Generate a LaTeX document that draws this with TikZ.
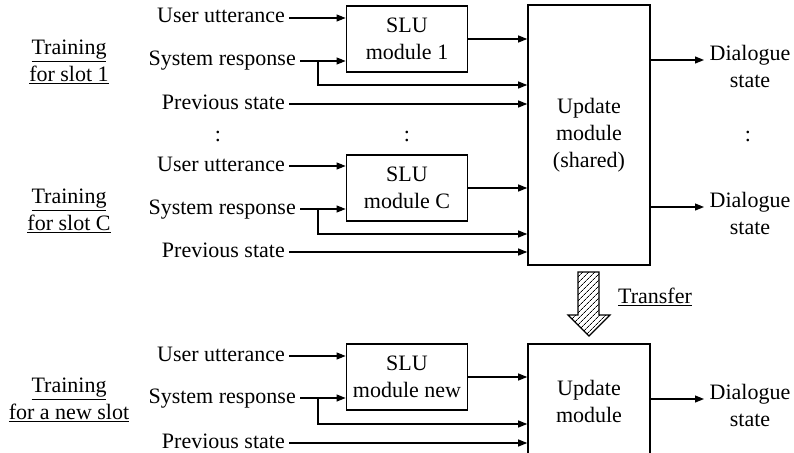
\documentclass[tikz,border=0pt]{standalone}
\usepackage{fontspec}
\setmainfont{Liberation Serif}
\usetikzlibrary{arrows.meta,patterns.meta}

\tikzset{
  every node/.style={font=\fontsize{22}{27}\selectfont},
  inlabel/.style={anchor=east, inner sep=4pt, text height=15pt, text depth=5pt},
  outlabel/.style={align=center, inner sep=4pt},
  trainlabel/.style={align=center, inner sep=0pt},
  slubox/.style={draw, line width=1.8pt, minimum width=121pt, minimum height=66pt,
                 align=center, inner sep=2pt},
  updbox/.style={draw, line width=1.6pt, minimum width=122pt, align=center},
  conn/.style={line width=1.1pt, -{Triangle[length=9pt,width=7pt]}},
  wire/.style={line width=1.1pt},
  dots/.style={inner sep=0pt}
}

\begin{document}
\begin{tikzpicture}[x=1pt,y=-1pt]
\useasboundingbox (0,0) rectangle (794,452);
\clip (0,0) rectangle (794,452);

% ---------- shared update module ----------
\node[updbox, minimum height=260pt] (upd1) at (589,135) {Update\\module\\(shared)};

% ---------- slot 1 ----------
\node[trainlabel] (t1) at (69,62) {\underline{Training}\\\underline{for slot 1}};
\node[inlabel] (u1) at (289,18) {User utterance};
\node[inlabel] (s1) at (300,61) {System response};
\node[inlabel] (p1) at (289,104) {Previous state};
\node[slubox] (slu1) at (407,39) {SLU\\module 1};
\coordinate (b1) at (318,61);
\coordinate (j1) at (318,85);
\draw[conn] (u1.east) -- (u1.east -| slu1.west);
\draw[conn] (s1.east) -- (s1.east -| slu1.west);
\draw[conn] (b1) -- (j1) -- (j1 -| upd1.west);
\draw[conn] (slu1.east) -- (slu1.east -| upd1.west);
\draw[conn] (p1.east) -- (p1.east -| upd1.west);
\node[outlabel] (d1) at (750,66) {Dialogue\\state};
\coordinate (o1) at (704,60);
\draw[conn] (o1 -| upd1.east) -- (o1);

% ---------- ellipsis row ----------
\node[dots] (e1) at (218,136) {:};
\node[dots] (e2) at (407,136) {:};
\node[dots] (e3) at (748,136) {:};

% ---------- slot C ----------
\node[trainlabel] (t2) at (69,211) {\underline{Training}\\\underline{for slot C}};
\node[inlabel] (u2) at (289,166) {User utterance};
\node[inlabel] (s2) at (300,209) {System response};
\node[inlabel] (p2) at (289,252) {Previous state};
\node[slubox] (slu2) at (407,188) {SLU\\module C};
\coordinate (b2) at (318,209);
\coordinate (j2) at (318,234);
\draw[conn] (u2.east) -- (u2.east -| slu2.west);
\draw[conn] (s2.east) -- (s2.east -| slu2.west);
\draw[conn] (b2) -- (j2) -- (j2 -| upd1.west);
\draw[conn] (slu2.east) -- (slu2.east -| upd1.west);
\draw[conn] (p2.east) -- (p2.east -| upd1.west);
\node[outlabel] (d2) at (750,213) {Dialogue\\state};
\coordinate (o2) at (704,207);
\draw[conn] (o2 -| upd1.east) -- (o2);

% ---------- transfer arrow ----------
\draw[line width=1.1pt, pattern={Lines[angle=45,distance=4pt,line width=0.7pt]}]
  (578,272) -- (599,272) -- (599,315) -- (610,315) -- (589,336)
  -- (568,315) -- (578,315) -- cycle;
\node (tr) at (655,297) {\underline{Transfer}};

% ---------- new slot ----------
\node[updbox, minimum height=114pt] (upd2) at (589,401) {Update\\module};
\node[trainlabel] (t3) at (69,400) {\underline{Training}\\\underline{for a new slot}};
\node[inlabel] (u3) at (289,356) {User utterance};
\node[inlabel] (s3) at (300,398) {System response};
\node[inlabel] (p3) at (289,443) {Previous state};
\node[slubox] (slu3) at (407,377) {SLU\\module new};
\coordinate (b3) at (318,398);
\coordinate (j3) at (318,424);
\draw[conn] (u3.east) -- (u3.east -| slu3.west);
\draw[conn] (s3.east) -- (s3.east -| slu3.west);
\draw[conn] (b3) -- (j3) -- (j3 -| upd2.west);
\draw[conn] (slu3.east) -- (slu3.east -| upd2.west);
\draw[conn] (p3.east) -- (p3.east -| upd2.west);
\node[outlabel] (d3) at (750,405) {Dialogue\\state};
\coordinate (o3) at (704,399);
\draw[conn] (o3 -| upd2.east) -- (o3);
\end{tikzpicture}
\end{document}
